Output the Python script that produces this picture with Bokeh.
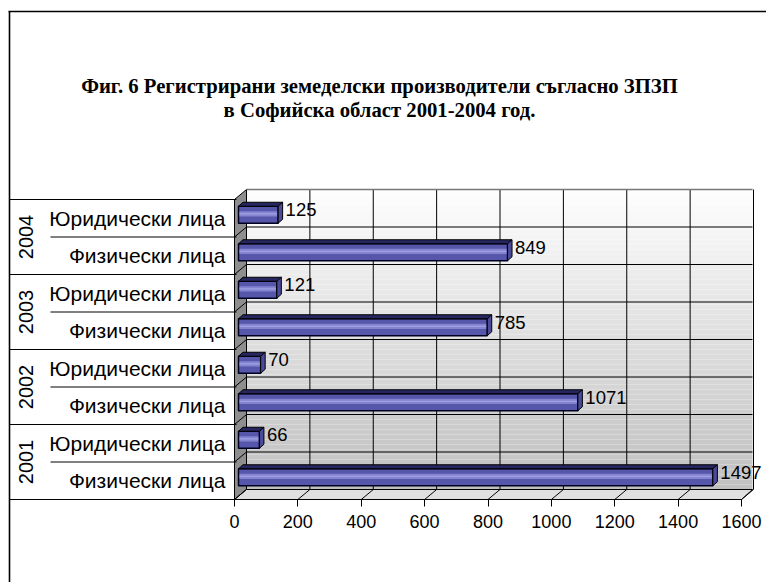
import numpy as np
from bokeh.plotting import figure
from bokeh.models import Range1d, FixedTicker, ColumnDataSource
from bokeh.embed import file_html
from bokeh.resources import INLINE
from bokeh.core.properties import value

# ---------------- data ----------------
years = ["2001", "2002", "2003", "2004"]
kinds = ["Физически лица", "Юридически лица"]
fizicheski = [1497, 1071, 785, 849]
yuridicheski = [66, 70, 121, 125]
x_ticks = [0, 200, 400, 600, 800, 1000, 1200, 1400, 1600]
title_lines = ["Фиг. 6 Регистрирани земеделски производители съгласно ЗПЗП",
               "в Софийска област 2001-2004 год."]

# ---------------- layout helpers (page pixels -> data) ----------------
PX0, PX1, PYB, ROW = 234.0, 741.0, 499.0, 37.5
SX = (PX1 - PX0) / 1600.0


def X(px):
    return (px - PX0) / SX


def Y(py):
    return (PYB - py) / ROW


def DX(d):
    return d / SX


def DY(d):
    return d / ROW


FONT = value("Liberation Sans")

p = figure(width=766, height=582, x_range=Range1d(X(0), X(766)), y_range=Range1d(Y(582), Y(0)),
           output_backend="svg", toolbar_location=None, title=None, y_axis_location=None,
           min_border=0)
p.outline_line_color = None
p.background_fill_color = "white"
p.border_fill_color = "white"
p.grid.visible = False
for g in p.grid:
    g.grid_line_color = None

# ---------------- 3D box: back wall with gradient ----------------
N = 60
y_edges = np.linspace(Y(489), Y(189), N + 1)
cols = []
for i in range(N):
    t = i / (N - 1)
    c = int(round(192 + (253 - 192) * t))
    cols.append("#%02x%02x%02x" % (c, c, c))
p.quad(left=X(246), right=X(752), bottom=y_edges[:-1], top=y_edges[1:] + 0.002,
       fill_color=cols, line_color=None)

# side wall
p.patch([X(234), X(234), X(246), X(246)], [Y(199), Y(499), Y(489), Y(189)],
        fill_color="#8e8e8e", line_color="black", line_width=1)
# floor
p.patch([X(234), X(741), X(752), X(246)], [Y(499), Y(499), Y(489), Y(489)],
        fill_color="#e0e0e0", line_color="black", line_width=1)

# back wall grid: vertical lines
back_x = [X(246) + v for v in x_ticks]
p.segment(x0=back_x, y0=Y(489), x1=back_x, y1=Y(189), line_color="black", line_width=1)
# horizontal grid at row boundaries
nrows = 2 * len(years)
rb = [k + DY(10) for k in range(1, nrows)]
p.segment(x0=X(246), y0=rb, x1=X(752), y1=rb, line_color="black", line_width=1)
p.segment(x0=[X(246)], y0=[Y(189)], x1=[X(752)], y1=[Y(189)], line_color="#777777", line_width=1.5)
# side wall diagonals
p.segment(x0=X(234), y0=list(range(1, nrows)), x1=X(246), y1=rb, line_color="black", line_width=1)
# floor diagonals
p.segment(x0=[X(234) + v for v in x_ticks], y0=Y(499), x1=back_x, y1=Y(489),
          line_color="black", line_width=1)

# ---------------- label table ----------------
grp = list(range(0, nrows + 1, 2))
sub = list(range(1, nrows, 2))
p.segment(x0=X(9), y0=grp, x1=X(236), y1=grp, line_color="black", line_width=1)
p.segment(x0=X(50), y0=sub, x1=X(236), y1=sub, line_color="black", line_width=1)
# outer box
p.segment(x0=[X(9), X(8)], y0=[Y(582), Y(11)], x1=[X(9), X(766)], y1=[Y(11), Y(11)],
          line_color="black", line_width=1.6)

row_labels, row_vals, row_y = [], [], []
for i, yr in enumerate(years):
    row_labels += [kinds[0], kinds[1]]
    row_vals += [fizicheski[i], yuridicheski[i]]
for k in range(nrows):
    row_y.append(k + 0.5)

p.text(x=X(225), y=row_y, text=row_labels, text_font=FONT, text_font_size="21px",
       text_align="right", text_baseline="middle", text_color="black")
p.text(x=X(25), y=[2 * i + 1 for i in range(len(years))], text=years, text_font=FONT,
       text_font_size="20px", angle=np.pi / 2, text_align="center", text_baseline="middle",
       text_color="black")

# ---------------- bars ----------------
shift_x, shift_y = DX(4), DY(3.5)
dep_x, dep_y = DX(4.5), DY(4)
bh = DY(17)
yc = [y + shift_y for y in row_y]
left = [shift_x] * nrows
right = [v + shift_x for v in row_vals]
ytop = [y + bh / 2 for y in yc]
ybot = [y - bh / 2 for y in yc]

src = ColumnDataSource(dict(y=yc, left=left, right=right))
p.hbar(y="y", left="left", right="right", height=bh, source=src,
       fill_color="#5656aa", line_color="#000020", line_width=1.5)
p.hbar(y=[y + bh * 0.05 for y in yc], left=[l + DX(1) for l in left],
       right=[r - DX(1) for r in right], height=bh * 0.32, fill_color="#8383d0", line_color=None)
p.hbar(y=[y + bh * 0.05 for y in yc], left=[l + DX(1) for l in left],
       right=[r - DX(1) for r in right], height=bh * 0.08, fill_color="#a0a0e2", line_color=None)

top_xs = [[l, r, r + dep_x, l + dep_x] for l, r in zip(left, right)]
top_ys = [[t, t, t + dep_y, t + dep_y] for t in ytop]
p.patches(xs=top_xs, ys=top_ys, fill_color="#262660", line_color="black", line_width=1)
side_xs = [[r, r, r + dep_x, r + dep_x] for r in right]
side_ys = [[b, t, t + dep_y, b + dep_y] for b, t in zip(ybot, ytop)]
p.patches(xs=side_xs, ys=side_ys, fill_color="#4a4a98", line_color="black", line_width=1)

# data labels
p.text(x=[r + dep_x + DX(3) for r in right], y=[y + DY(5) for y in yc],
       text=[str(v) for v in row_vals], text_font=FONT, text_font_size="18.5px",
       text_align="left", text_baseline="middle", text_color="black")

# ---------------- title ----------------
p.text(x=X(379), y=[Y(85), Y(109)], text=title_lines, text_font=value("Liberation Serif"),
       text_font_style="bold", text_font_size="20.7px", text_align="center",
       text_baseline="middle", text_color="black")

# ---------------- x axis (fixed at floor front edge) ----------------
ax = p.xaxis[0]
ax.fixed_location = 0
ax.ticker = FixedTicker(ticks=x_ticks)
ax.axis_line_color = None
ax.major_tick_in = 0
ax.major_tick_out = 7
ax.major_tick_line_color = "black"
ax.minor_tick_line_color = None
ax.major_label_standoff = 8
ax.major_label_text_font = "Liberation Sans"
ax.major_label_text_font_size = "18px"
ax.major_label_text_color = "black"

open("out.html", "w").write(file_html(p, INLINE))
